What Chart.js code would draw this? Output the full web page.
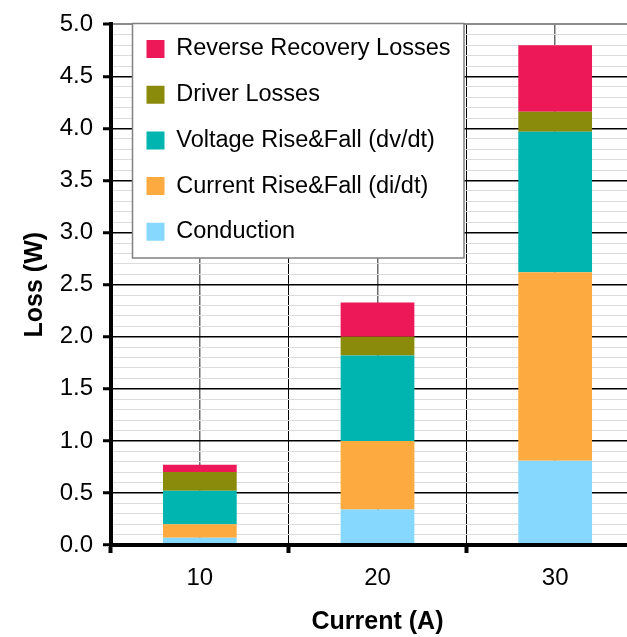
<!DOCTYPE html>
<html>
<head>
<meta charset="utf-8">
<title>Loss breakdown vs current</title>
<script src="https://cdn.jsdelivr.net/npm/chart.js@4.4.1/dist/chart.umd.min.js"></script>
<style>
  html, body { margin: 0; padding: 0; overflow: hidden; background: #fff; }
  canvas { display: block; }
</style>
</head>
<body>
<canvas id="lossChart" width="660" height="637" style="width:660px;height:637px"></canvas>
<script>
// Load currents (A) and loss components (W), stacked bottom to top
const currents   = ['10', '20', '30'];
const conduction = [0.07, 0.34, 0.81];
const currentRF  = [0.13, 0.66, 1.81];
const voltageRF  = [0.32, 0.82, 1.35];
const driver     = [0.18, 0.18, 0.19];
const reverseRec = [0.07, 0.33, 0.64];

const seriesNames = [
  'Conduction',
  'Current Rise&Fall (di/dt)',
  'Voltage Rise&Fall (dv/dt)',
  'Driver Losses',
  'Reverse Recovery Losses'
];
const seriesColors = ['#87d8fe', '#fdab40', '#00b4b0', '#8b8b0b', '#ec1858'];
const seriesValues = [conduction, currentRF, voltageRF, driver, reverseRec];

const FONT = "'Liberation Sans', Arial, Helvetica, sans-serif";
Chart.defaults.font.family = FONT;
Chart.defaults.color = '#000';

const isMajor = v => Math.abs(v * 2 - Math.round(v * 2)) < 1e-6;

// White framed panel behind the legend, placed inside the plot area
const legendPanel = {
  id: 'legendPanel',
  afterLayout(chart, args, opts) {
    const lg = chart.legend;
    const dx = opts.itemsX - lg.left;
    const dy = opts.itemsY - lg.top;
    lg.left += dx; lg.right += dx;
    lg.top += dy; lg.bottom += dy;
  },
  beforeDatasetsDraw(chart, args, opts) {
    const ctx = chart.ctx;
    const b = opts.box;
    ctx.save();
    ctx.fillStyle = '#fff';
    ctx.fillRect(b.x, b.y, b.w, b.h);
    ctx.strokeStyle = '#808080';
    ctx.lineWidth = 1.5;
    ctx.strokeRect(b.x, b.y, b.w, b.h);
    ctx.restore();
    chart.legend.draw();
  }
};

new Chart(document.getElementById('lossChart'), {
  type: 'bar',
  data: {
    labels: currents,
    datasets: seriesNames.map((name, i) => ({
      label: name,
      data: seriesValues[i],
      backgroundColor: seriesColors[i],
      borderWidth: 0,
      barPercentage: 0.415,
      categoryPercentage: 1.0
    }))
  },
  options: {
    responsive: false,
    animation: false,
    devicePixelRatio: 1,
    layout: { padding: { left: 0, right: 16, top: 20, bottom: 0 } },
    plugins: {
      tooltip: { enabled: false },
      legend: {
        position: 'chartArea',
        align: 'start',
        reverse: true,
        labels: {
          font: { size: 23.5, family: FONT },
          color: '#000',
          boxWidth: 18,
          boxHeight: 18,
          padding: 22.2
        }
      },
      legendPanel: {
        itemsX: 124.3,
        itemsY: 15.05,
        box: { x: 132.5, y: 23.5, w: 331.5, h: 234.5 }
      }
    },
    scales: {
      x: {
        stacked: true,
        offset: true,
        grid: {
          offset: true,
          color: '#000',
          lineWidth: 1,
          drawTicks: true,
          tickLength: 8,
          tickWidth: 4,
          tickColor: '#000'
        },
        border: { display: true, color: '#000', width: 4, z: 1 },
        ticks: { font: { size: 24 }, color: '#000', padding: 11 },
        title: {
          display: true,
          text: 'Current (A)',
          font: { size: 25, weight: 'bold' },
          color: '#000',
          padding: { top: 0, bottom: 0 }
        },
        afterFit(s) { s.height = 92; }
      },
      x2: {
        type: 'category',
        labels: currents,
        position: 'top',
        offset: true,
        grid: { offset: false, color: '#6c6c6c', lineWidth: 1.5, drawTicks: false },
        border: { display: false },
        ticks: { display: false },
        afterFit(s) { s.height = 0; }
      },
      y: {
        stacked: true,
        min: 0,
        max: 5,
        ticks: {
          stepSize: 0.1,
          autoSkip: false,
          font: { size: 24 },
          color: '#000',
          padding: 10,
          callback: v => (isMajor(v) ? v.toFixed(1) : '')
        },
        grid: {
          color: c => (c.tick.value >= 5 - 1e-9 ? '#8c8c8c' : isMajor(c.tick.value) ? '#000' : '#dcdcdc'),
          lineWidth: c => (c.tick.value >= 5 - 1e-9 ? 2 : isMajor(c.tick.value) ? 1.5 : 1),
          drawTicks: true,
          tickLength: 8,
          tickWidth: 3,
          tickColor: c => (isMajor(c.tick.value) ? '#000' : 'rgba(0,0,0,0)')
        },
        border: { display: true, color: '#000', width: 4, z: 1 },
        title: {
          display: true,
          text: 'Loss (W)',
          font: { size: 25, weight: 'bold' },
          color: '#000',
          padding: { top: 20, bottom: 0 }
        },
        afterFit(s) { s.width = 111; }
      }
    }
  },
  plugins: [legendPanel]
});
</script>
</body>
</html>
